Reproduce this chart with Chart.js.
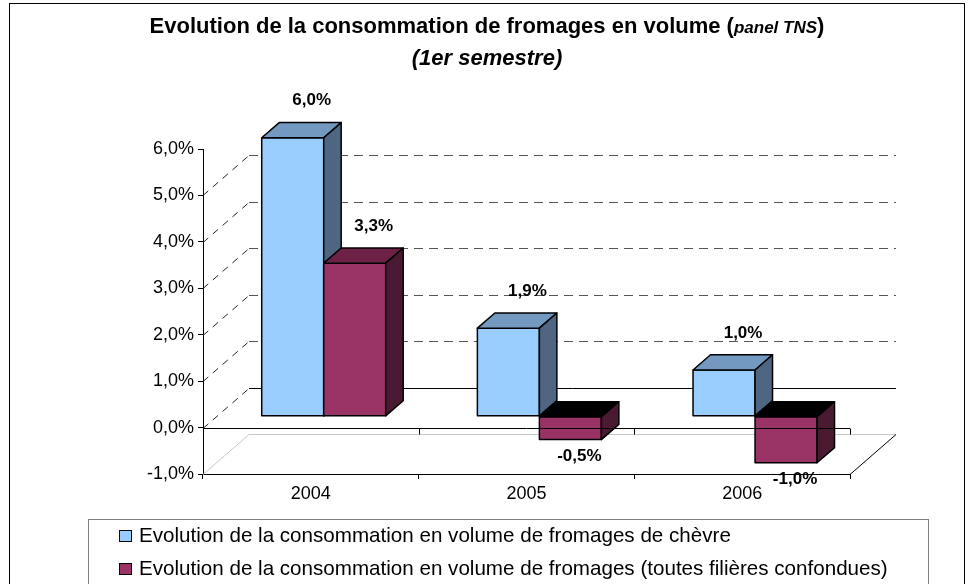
<!DOCTYPE html>
<html>
<head>
<meta charset="utf-8">
<title>Evolution de la consommation de fromages en volume</title>
<script src="https://cdn.jsdelivr.net/npm/chart.js@4.4.1/dist/chart.umd.min.js"></script>
<style>
  body { margin: 0; background: #fff; }
  #graf { display: block; }
</style>
</head>
<body>
<canvas id="graf" width="975" height="584"></canvas>
<script>
// Données (panel TNS, 1er semestre)
const annees = ['2004', '2005', '2006'];
const chevre = [6.0, 1.9, 1.0];
const toutesFilieres = [3.3, -0.5, -1.0];
const nomsSeries = [
  'Evolution de la consommation en volume de fromages de chèvre',
  'Evolution de la consommation en volume de fromages (toutes filières confondues)'
];
const graduations = [-1, 0, 1, 2, 3, 4, 5, 6];

// couleurs des faces (avant, dessus, côté)
const couleurs = [
  { face: '#99ccff', dessus: '#7399c0', cote: '#4f6682' },
  { face: '#993366', dessus: '#6e2147', cote: '#4a1a33' }
];

const PROF = { dx: 46, dy: -40 };          // profondeur des murs
const BARRE = { avant: 0.28, arriere: 0.66 }; // position des barres dans la profondeur
const POLICE = '"Liberation Sans", Arial, sans-serif';

const fmt = v => v.toFixed(1).replace('.', ',') + '%';

const effet3d = {
  id: 'effet3d',
  beforeDatasetsDraw(chart) {
    const { ctx, chartArea: ca, scales: { x, y } } = chart;
    const g = ca.left, d = ca.right;
    ctx.save();
    ctx.lineWidth = 1;

    // sol au niveau -1
    const ySol = Math.round(y.getPixelForValue(-1)) + 0.5;
    ctx.strokeStyle = '#c8c8c8';
    ctx.beginPath();
    ctx.moveTo(g, ySol);
    ctx.lineTo(g + PROF.dx, ySol + PROF.dy);
    ctx.lineTo(d + PROF.dx, ySol + PROF.dy);
    ctx.stroke();
    ctx.strokeStyle = '#000';
    ctx.beginPath();
    ctx.moveTo(d, ySol);
    ctx.lineTo(d + PROF.dx, ySol + PROF.dy);
    ctx.stroke();

    // quadrillage du mur du fond + diagonales du mur gauche
    graduations.forEach(v => {
      if (v < 0 || v >= 6) return;
      const yy = Math.round(y.getPixelForValue(v)) + 0.5;
      ctx.setLineDash(v === 0 ? [] : [9, 6]);
      ctx.strokeStyle = v === 0 ? '#000' : '#555';
      ctx.beginPath();
      ctx.moveTo(g + PROF.dx, yy + PROF.dy);
      ctx.lineTo(d + PROF.dx, yy + PROF.dy);
      ctx.stroke();
      ctx.setLineDash([7, 6]);
      ctx.strokeStyle = '#222';
      ctx.beginPath();
      ctx.moveTo(g, yy);
      ctx.lineTo(g + PROF.dx, yy + PROF.dy);
      ctx.stroke();
    });
    ctx.setLineDash([]);

    // barres en 3D, catégorie par catégorie
    const ox = BARRE.avant * PROF.dx, oy = BARRE.avant * PROF.dy;
    const bx = (BARRE.arriere - BARRE.avant) * PROF.dx;
    const by = (BARRE.arriere - BARRE.avant) * PROF.dy;
    const etiquettes = [];
    annees.forEach((_, i) => {
      chart.data.datasets.forEach((ds, di) => {
        const el = chart.getDatasetMeta(di).data[i];
        const p = el.getProps(['x', 'y', 'base', 'width'], true);
        const val = ds.data[i];
        const c = couleurs[di];
        const l = p.x - p.width / 2 + ox, r = p.x + p.width / 2 + ox;
        const t = Math.min(p.y, p.base) + oy, b = Math.max(p.y, p.base) + oy;
        ctx.lineWidth = 1.5;
        ctx.strokeStyle = '#000';
        ctx.lineJoin = 'round';
        // face avant
        ctx.fillStyle = c.face;
        ctx.beginPath();
        ctx.rect(l, t, r - l, b - t);
        ctx.fill(); ctx.stroke();
        // dessus
        ctx.fillStyle = val < 0 ? '#000' : c.dessus;
        ctx.beginPath();
        ctx.moveTo(l, t); ctx.lineTo(r, t); ctx.lineTo(r + bx, t + by); ctx.lineTo(l + bx, t + by);
        ctx.closePath(); ctx.fill(); ctx.stroke();
        // côté
        ctx.fillStyle = c.cote;
        ctx.beginPath();
        ctx.moveTo(r, t); ctx.lineTo(r + bx, t + by); ctx.lineTo(r + bx, b + by); ctx.lineTo(r, b);
        ctx.closePath(); ctx.fill(); ctx.stroke();
        etiquettes.push({ val, cx: (l + r) / 2, t, b });
      });
    });

    // ligne du zéro au premier plan
    ctx.lineWidth = 1;
    const y0 = Math.round(y.getPixelForValue(0)) + 0.5;
    ctx.beginPath();
    ctx.moveTo(g, y0); ctx.lineTo(d, y0);
    for (let i = 0; i <= annees.length; i++) {
      const xx = Math.round(g + (d - g) * i / annees.length) + 0.5;
      ctx.moveTo(xx, y0); ctx.lineTo(xx, y0 + 6);
    }
    ctx.stroke();

    // étiquettes de valeur
    ctx.fillStyle = '#000';
    ctx.font = 'bold 17px ' + POLICE;
    ctx.textAlign = 'center';
    ctx.textBaseline = 'middle';
    etiquettes.forEach(e => {
      if (e.val >= 0) ctx.fillText(fmt(e.val), e.cx + 19, e.t - 37);
      else ctx.fillText(fmt(e.val), e.cx + 9, e.b + 17);
    });
    ctx.restore();
    return false;
  },
  afterDraw(chart) {
    const { ctx } = chart;
    ctx.save();
    // cadre
    ctx.strokeStyle = '#000';
    ctx.lineWidth = 1;
    ctx.strokeRect(9.5, 3.5, 955, 620);

    // titre (gras + italique pour « panel TNS »)
    const cx = 487;
    const morceaux = [
      { txt: 'Evolution de la consommation de fromages en volume (', font: 'bold 22px ' + POLICE },
      { txt: 'panel TNS', font: 'italic bold 17px ' + POLICE },
      { txt: ')', font: 'bold 22px ' + POLICE }
    ];
    let total = 0;
    morceaux.forEach(m => { ctx.font = m.font; m.w = ctx.measureText(m.txt).width; total += m.w; });
    let xx = cx - total / 2;
    ctx.fillStyle = '#000';
    ctx.textBaseline = 'alphabetic';
    ctx.textAlign = 'left';
    morceaux.forEach(m => { ctx.font = m.font; ctx.fillText(m.txt, xx, 33); xx += m.w; });
    ctx.font = 'italic bold 22px ' + POLICE;
    ctx.textAlign = 'center';
    ctx.fillText('(1er semestre)', cx, 65);

    // légende encadrée
    ctx.strokeStyle = '#808080';
    ctx.strokeRect(88.5, 519.5, 840, 80);
    ctx.textAlign = 'left';
    ctx.textBaseline = 'middle';
    ctx.font = '20.6px ' + POLICE;
    nomsSeries.forEach((nom, i) => {
      const yy = 536 + i * 33;
      ctx.fillStyle = couleurs[i].face;
      ctx.fillRect(119.5, yy - 5.5, 12, 11);
      ctx.strokeStyle = '#000';
      ctx.strokeRect(119.5, yy - 5.5, 12, 11);
      ctx.fillStyle = '#000';
      ctx.fillText(nom, 139, yy);
    });
    ctx.restore();
  }
};

new Chart(document.getElementById('graf'), {
  type: 'bar',
  data: {
    labels: annees,
    datasets: [
      { label: nomsSeries[0], data: chevre, backgroundColor: couleurs[0].face },
      { label: nomsSeries[1], data: toutesFilieres, backgroundColor: couleurs[1].face }
    ]
  },
  options: {
    responsive: false,
    animation: false,
    devicePixelRatio: 1,
    categoryPercentage: 0.575,
    barPercentage: 1.0,
    layout: { padding: { left: 10, top: 149, right: 125, bottom: 0 } },
    scales: {
      x: {
        grid: { drawOnChartArea: false, tickLength: 5, color: '#000', offset: true },
        border: { color: '#000', width: 1 },
        ticks: { color: '#000', font: { family: POLICE, size: 18 }, padding: 4 },
        afterFit(s) { s.height = 110; }
      },
      y: {
        min: -1, max: 6,
        grid: { drawOnChartArea: false, tickLength: 5, color: '#000' },
        border: { color: '#000', width: 1 },
        ticks: {
          stepSize: 1, color: '#000', padding: 4,
          font: { family: POLICE, size: 18 },
          callback: v => fmt(v)
        },
        afterFit(s) { s.width = 193; }
      }
    },
    plugins: {
      legend: { display: false },
      tooltip: { enabled: false }
    }
  },
  plugins: [effet3d]
});
</script>
</body>
</html>
